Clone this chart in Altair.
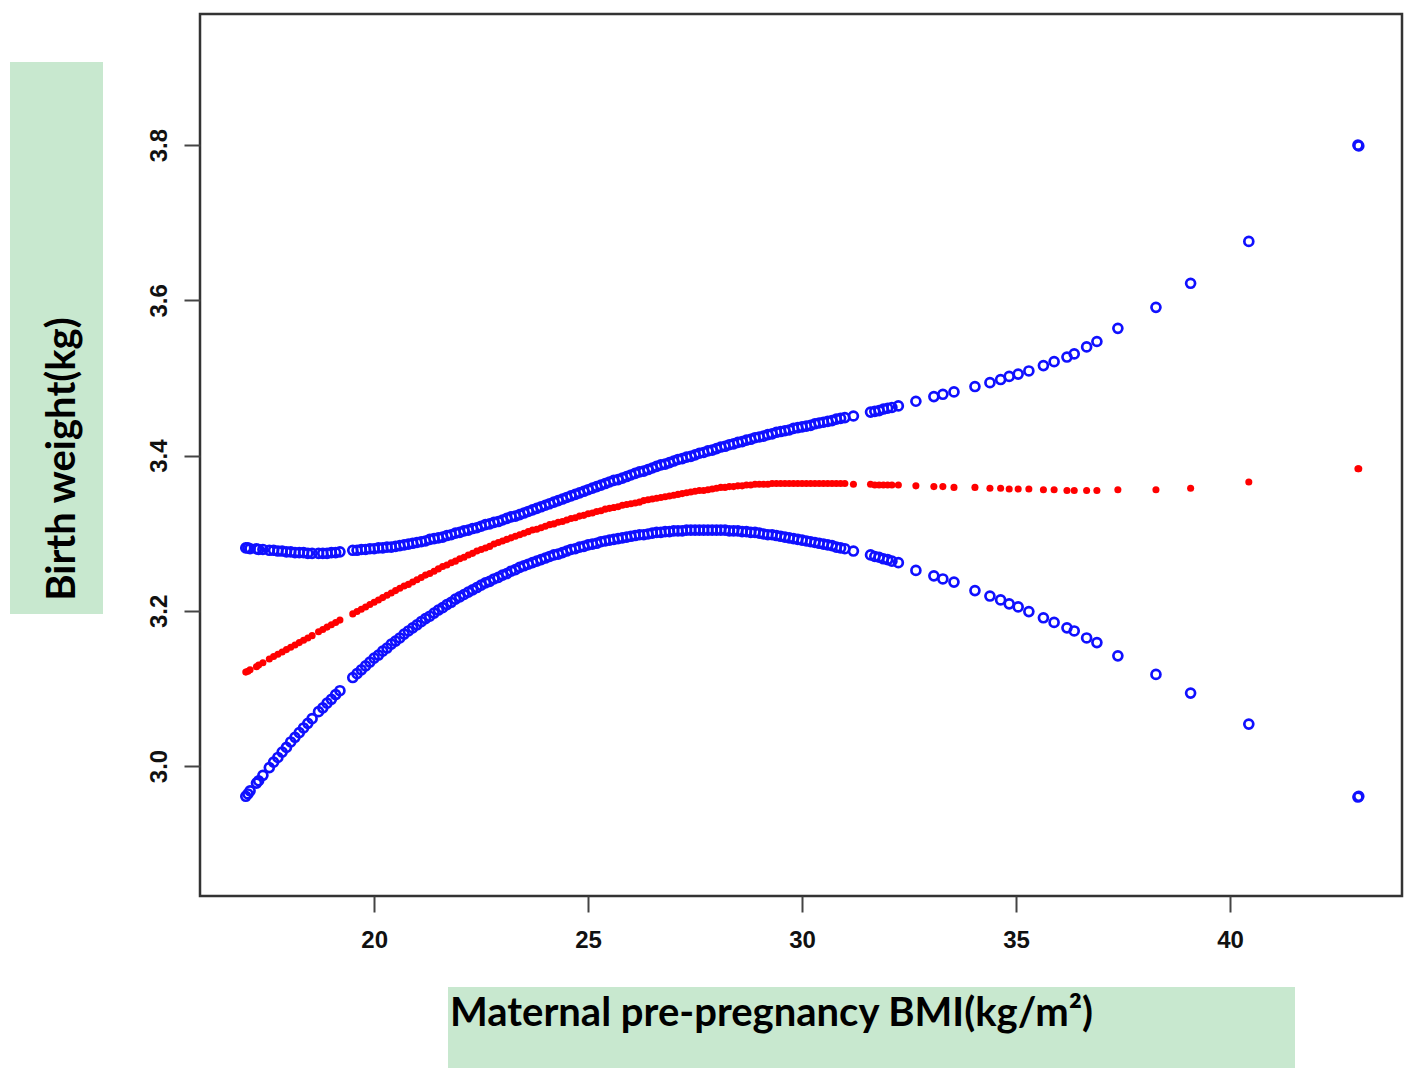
import altair as alt
import pandas as pd

# ---------------- data ----------------
bmi_low = [17.0, 17.05, 17.1, 17.25, 17.3, 17.4, 17.55, 17.65, 17.75, 17.85, 17.95,
           18.05, 18.15, 18.25, 18.35, 18.45, 18.55, 18.7, 18.8, 18.9, 19.0, 19.1, 19.2]
fit_low = [3.121, 3.122, 3.124, 3.128, 3.130, 3.133, 3.138, 3.141, 3.144, 3.147, 3.150,
           3.153, 3.156, 3.159, 3.162, 3.165, 3.168, 3.173, 3.176, 3.179, 3.182, 3.185, 3.188]
upper_low = [3.281, 3.281, 3.280, 3.280, 3.279, 3.279, 3.278, 3.278, 3.277, 3.277, 3.276,
             3.276, 3.275, 3.275, 3.275, 3.274, 3.274, 3.274, 3.274, 3.274, 3.275, 3.275, 3.276]
lower_low = [2.961, 2.964, 2.968, 2.978, 2.981, 2.988, 2.998, 3.005, 3.011, 3.018, 3.024,
             3.031, 3.037, 3.043, 3.049, 3.055, 3.061, 3.070, 3.075, 3.081, 3.086, 3.092, 3.097]

bmi_mid = [19.5, 19.6, 19.7, 19.8, 19.9, 20.0, 20.1, 20.2, 20.3, 20.4,
           20.5, 20.6, 20.7, 20.8, 20.9, 21.0, 21.1, 21.2, 21.3, 21.4,
           21.5, 21.6, 21.7, 21.8, 21.9, 22.0, 22.1, 22.2, 22.3, 22.4,
           22.5, 22.6, 22.7, 22.8, 22.9, 23.0, 23.1, 23.2, 23.3, 23.4,
           23.5, 23.6, 23.7, 23.8, 23.9, 24.0, 24.1, 24.2, 24.3, 24.4,
           24.5, 24.6, 24.7, 24.8, 24.9, 25.0, 25.1, 25.2, 25.3, 25.4,
           25.5, 25.6, 25.7, 25.8, 25.9, 26.0, 26.1, 26.2, 26.3, 26.4,
           26.5, 26.6, 26.7, 26.8, 26.9, 27.0, 27.1, 27.2, 27.3, 27.4,
           27.5, 27.6, 27.7, 27.8, 27.9, 28.0, 28.1, 28.2, 28.3, 28.4,
           28.5, 28.6, 28.7, 28.8, 28.9, 29.0, 29.1, 29.2, 29.3, 29.4,
           29.5, 29.6, 29.7, 29.8, 29.9, 30.0, 30.1, 30.2, 30.3, 30.4,
           30.5, 30.6, 30.7, 30.8, 30.9, 31.0]
fit_mid = [3.196, 3.199, 3.202, 3.205, 3.208, 3.211, 3.214, 3.217, 3.220, 3.223,
           3.226, 3.229, 3.232, 3.234, 3.237, 3.240, 3.243, 3.246, 3.248, 3.251,
           3.254, 3.257, 3.259, 3.262, 3.264, 3.267, 3.269, 3.272, 3.274, 3.277,
           3.279, 3.281, 3.283, 3.286, 3.288, 3.290, 3.292, 3.294, 3.296, 3.298,
           3.300, 3.302, 3.304, 3.305, 3.307, 3.309, 3.311, 3.312, 3.314, 3.315,
           3.317, 3.319, 3.320, 3.322, 3.323, 3.325, 3.326, 3.328, 3.329, 3.331,
           3.332, 3.333, 3.334, 3.336, 3.337, 3.338, 3.339, 3.340, 3.342, 3.343,
           3.344, 3.345, 3.346, 3.347, 3.348, 3.349, 3.350, 3.351, 3.352, 3.353,
           3.354, 3.355, 3.355, 3.356, 3.357, 3.358, 3.359, 3.359, 3.360, 3.360,
           3.361, 3.361, 3.362, 3.362, 3.363, 3.363, 3.363, 3.363, 3.364, 3.364,
           3.364, 3.364, 3.364, 3.364, 3.364, 3.364, 3.364, 3.364, 3.364, 3.364,
           3.364, 3.364, 3.364, 3.364, 3.364, 3.364]
upper_mid = [3.278, 3.278, 3.279, 3.279, 3.280, 3.280, 3.281, 3.281, 3.282, 3.282,
             3.283, 3.284, 3.285, 3.286, 3.287, 3.288, 3.289, 3.290, 3.292, 3.293,
             3.294, 3.295, 3.297, 3.298, 3.300, 3.301, 3.303, 3.304, 3.306, 3.307,
             3.309, 3.311, 3.312, 3.314, 3.315, 3.317, 3.319, 3.321, 3.322, 3.324,
             3.326, 3.328, 3.330, 3.332, 3.334, 3.336, 3.338, 3.340, 3.342, 3.344,
             3.346, 3.348, 3.350, 3.352, 3.354, 3.356, 3.358, 3.360, 3.362, 3.364,
             3.366, 3.368, 3.369, 3.371, 3.373, 3.375, 3.377, 3.379, 3.380, 3.382,
             3.384, 3.386, 3.388, 3.389, 3.391, 3.393, 3.395, 3.396, 3.398, 3.399,
             3.401, 3.403, 3.404, 3.406, 3.407, 3.409, 3.411, 3.412, 3.414, 3.415,
             3.417, 3.418, 3.420, 3.421, 3.423, 3.424, 3.425, 3.427, 3.428, 3.430,
             3.431, 3.432, 3.433, 3.435, 3.436, 3.437, 3.438, 3.439, 3.441, 3.442,
             3.443, 3.444, 3.445, 3.447, 3.448, 3.449]
lower_mid = [3.114, 3.119, 3.124, 3.129, 3.134, 3.139, 3.143, 3.148, 3.152, 3.157,
             3.161, 3.165, 3.170, 3.174, 3.178, 3.182, 3.186, 3.190, 3.193, 3.197,
             3.201, 3.204, 3.208, 3.211, 3.215, 3.218, 3.221, 3.224, 3.227, 3.230,
             3.233, 3.236, 3.238, 3.241, 3.243, 3.246, 3.248, 3.251, 3.253, 3.256,
             3.258, 3.260, 3.262, 3.264, 3.266, 3.268, 3.270, 3.272, 3.273, 3.275,
             3.277, 3.279, 3.280, 3.282, 3.283, 3.285, 3.286, 3.287, 3.289, 3.290,
             3.291, 3.292, 3.293, 3.294, 3.295, 3.296, 3.297, 3.298, 3.298, 3.299,
             3.300, 3.301, 3.301, 3.302, 3.302, 3.303, 3.303, 3.303, 3.304, 3.304,
             3.304, 3.304, 3.304, 3.304, 3.304, 3.304, 3.304, 3.304, 3.303, 3.303,
             3.303, 3.302, 3.302, 3.301, 3.301, 3.300, 3.299, 3.298, 3.298, 3.297,
             3.296, 3.295, 3.294, 3.293, 3.292, 3.291, 3.290, 3.289, 3.288, 3.287,
             3.286, 3.285, 3.284, 3.282, 3.281, 3.280]

bmi_high = [31.2, 31.6, 31.7, 31.8, 31.9, 32.0, 32.1, 32.25, 32.66, 33.08, 33.29, 33.55,
            34.04, 34.39, 34.64, 34.84, 35.05, 35.30, 35.64, 35.89, 36.19, 36.36, 36.65,
            36.89, 37.38, 38.27, 39.08, 40.44, 42.99, 43.01]
fit_high = [3.363, 3.363, 3.362, 3.362, 3.362, 3.362, 3.362, 3.362, 3.361, 3.360, 3.360,
            3.359, 3.359, 3.358, 3.358, 3.357, 3.357, 3.357, 3.356, 3.356, 3.355, 3.355,
            3.355, 3.355, 3.356, 3.356, 3.358, 3.366, 3.383, 3.383]
upper_high = [3.451, 3.456, 3.457, 3.458, 3.460, 3.461, 3.462, 3.464, 3.470, 3.476, 3.479,
              3.482, 3.489, 3.494, 3.498, 3.502, 3.505, 3.509, 3.516, 3.521, 3.527, 3.531,
              3.540, 3.547, 3.564, 3.591, 3.622, 3.676, 3.800, 3.799]
lower_high = [3.277, 3.272, 3.270, 3.269, 3.267, 3.266, 3.264, 3.262, 3.252, 3.245, 3.241,
              3.237, 3.226, 3.219, 3.214, 3.209, 3.205, 3.199, 3.191, 3.185, 3.178, 3.174,
              3.165, 3.159, 3.142, 3.118, 3.094, 3.054, 2.960, 2.961]

x_ticks = [20, 25, 30, 35, 40]
y_ticks = [3.0, 3.2, 3.4, 3.6, 3.8]
x_title = "Maternal pre-pregnancy BMI(kg/m²)"
y_title = "Birth weight(kg)"

bmi = bmi_low + bmi_mid + bmi_high
fit = fit_low + fit_mid + fit_high
upper = upper_low + upper_mid + upper_high
lower = lower_low + lower_mid + lower_high
assert len(bmi) == len(fit) == len(upper) == len(lower)

df = pd.DataFrame({"bmi": bmi, "fit": fit, "upper": upper, "lower": lower})

# ---------------- layout ----------------
W, H = 1202, 882
GREEN = "#c8e8cf"
TICK_FONT = "Liberation Sans"
TITLE_FONT = "Lato"
BLUE = "#1010ff"

xscale = alt.Scale(domain=[15.93, 44.02], nice=False, zero=False)
yscale = alt.Scale(domain=[2.8325, 3.969], nice=False, zero=False)

xaxis = alt.Axis(values=x_ticks, title=None, grid=False, domain=False,
                 tickSize=16, tickWidth=2, tickColor="#444",
                 labelFont=TICK_FONT, labelFontWeight="bold", labelFontSize=24,
                 labelColor="#111", labelPadding=16)
yaxis = alt.Axis(values=y_ticks, format=".1f", title=None, grid=False, domain=False,
                 tickSize=16, tickWidth=2, tickColor="#444",
                 labelFont=TICK_FONT, labelFontWeight="bold", labelFontSize=24,
                 labelColor="#111", labelAngle=270, labelAlign="center",
                 labelBaseline="bottom", labelPadding=13)

base = alt.Chart(df)

up = base.mark_point(shape="circle", filled=False, color=BLUE,
                     strokeWidth=2.7, size=80, opacity=1).encode(
    x=alt.X("bmi:Q", scale=xscale, axis=xaxis),
    y=alt.Y("upper:Q", scale=yscale, axis=yaxis),
)
lo = base.mark_point(shape="circle", filled=False, color=BLUE,
                     strokeWidth=2.7, size=80, opacity=1).encode(
    x=alt.X("bmi:Q", scale=xscale),
    y=alt.Y("lower:Q", scale=yscale),
)
mid = base.mark_circle(color="#ff0000", size=50, opacity=1).encode(
    x=alt.X("bmi:Q", scale=xscale),
    y=alt.Y("fit:Q", scale=yscale),
)

# green title boxes and axis titles (outside the plot area)
ybox = alt.Chart(pd.DataFrame({"t": [y_title]})).mark_rect(color=GREEN).encode(
    x=alt.value(-190), x2=alt.value(-97), y=alt.value(48), y2=alt.value(600))
xbox = alt.Chart(pd.DataFrame({"t": [x_title]})).mark_rect(color=GREEN).encode(
    x=alt.value(248), x2=alt.value(1095), y=alt.value(973), y2=alt.value(1059))
ytext = alt.Chart(pd.DataFrame({"t": [y_title]})).mark_text(
    font=TITLE_FONT, fontWeight="bold", fontSize=40, angle=270,
    align="center", baseline="middle", color="#000").encode(
    x=alt.value(-137), y=alt.value(445), text="t:N")
xtext = alt.Chart(pd.DataFrame({"t": [x_title]})).mark_text(
    font=TITLE_FONT, fontWeight="bold", fontSize=40,
    align="left", baseline="alphabetic", color="#000").encode(
    x=alt.value(250), y=alt.value(1012), text="t:N")

chart = alt.layer(ybox, xbox, ytext, xtext, up, lo, mid).properties(
    width=W, height=H,
    autosize=alt.AutoSizeParams(type="none"),
    padding={"left": 192, "top": 6, "right": 5, "bottom": 172},
    background="white",
).configure_view(stroke="#333", strokeWidth=2.5)

chart.save("out.html", embed_options={"renderer": "svg", "actions": False})
